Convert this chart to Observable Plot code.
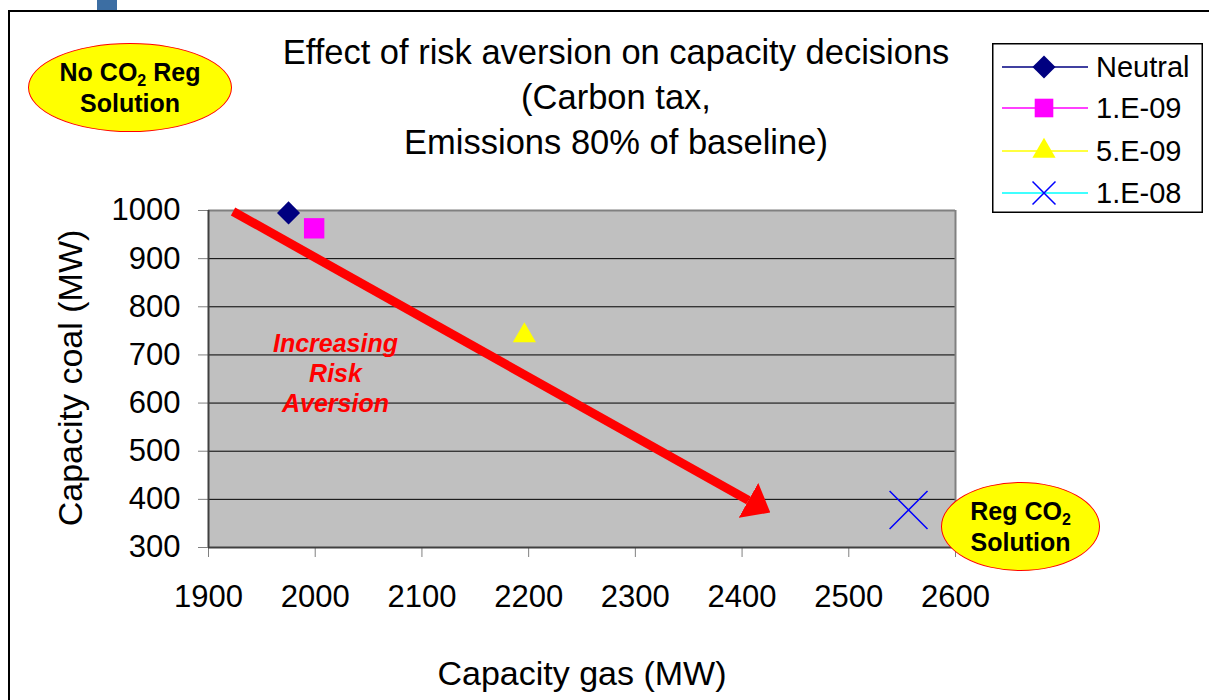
<!DOCTYPE html>
<html><head><meta charset="utf-8">
<script src="https://cdn.jsdelivr.net/npm/d3@7"></script>
<script src="https://cdn.jsdelivr.net/npm/@observablehq/plot@0.6"></script>
<style>
body{margin:0;background:#fff;font-family:"Liberation Sans",Arial,sans-serif;}
#wrap{position:relative;width:1209px;height:700px;overflow:hidden;background:#fff;}
#wrap svg.main{position:absolute;left:0;top:0;}
.frame{position:absolute;left:8px;top:10px;width:1300px;height:800px;border-left:2px solid #000;border-top:2px solid #000;box-sizing:border-box;}
.tab{position:absolute;left:97px;top:0;width:20px;height:10px;background:#3c6ea3;}
.title{position:absolute;left:266px;top:30px;width:700px;text-align:center;font-size:34.5px;line-height:45px;color:#000;white-space:nowrap;}
.xtitle{position:absolute;left:332px;top:656px;width:500px;text-align:center;font-size:34px;line-height:34px;white-space:nowrap;}
.ytitle{position:absolute;left:-130px;top:361px;width:400px;height:34px;text-align:center;font-size:34px;line-height:34px;white-space:nowrap;transform:rotate(-90deg);transform-origin:200px 17px;}
.ell{position:absolute;background:#ffff00;border:1.5px solid #ff0000;border-radius:50%;box-sizing:border-box;display:flex;align-items:center;justify-content:center;text-align:center;font-weight:bold;font-size:25px;line-height:31px;color:#000;}
.ell sub{font-size:16px;vertical-align:-5px;line-height:0;}
.legend{position:absolute;left:992px;top:43px;}
</style></head><body><div id="wrap"></div><script>
// ---- data ----
const series = ["Neutral", "1.E-09", "5.E-09", "1.E-08"];
const gasMW = [1975, 1999, 2196, 2556];
const coalMW = [995, 963, 740, 378];
const xTicks = [1900, 2000, 2100, 2200, 2300, 2400, 2500, 2600];
const yTicks = [300, 400, 500, 600, 700, 800, 900, 1000];
const arrowGas = [1923, 2406];
const arrowCoal = [998, 398];
const noteText = ["Increasing\nRisk\nAversion"];
const noteGas = [2019];
const noteCoal = [663];

// ---- styles ----
const seriesStyle = [
  {symbol: "diamond2", r: 10.4, fill: "#000080", stroke: "none", line: "#000080", lr: 10.4},
  {symbol: "square", r: 11.5, fill: "#ff00ff", stroke: "none", line: "#ff00ff", lr: 10.5},
  {symbol: "triangle", r: 8.6, fill: "#ffff00", stroke: "none", line: "#ffff00", lr: 8.6},
  {symbol: "times", r: 17.3, fill: "none", stroke: "#0000ff", line: "#00ffff", lr: 10.5}
];

const points = series.map((s, i) => ({series: s, gas: gasMW[i], coal: coalMW[i]}));
const arrow = [{x1: arrowGas[0], y1: arrowCoal[0], x2: arrowGas[1], y2: arrowCoal[1]}];
const notes = noteText.map((t, i) => ({t, x: noteGas[i], y: noteCoal[i]}));

function headMarker(color, context) {
  const m = d3.create("svg:marker")
    .attr("viewBox", "0 -20 25 40")
    .attr("markerWidth", 25).attr("markerHeight", 40)
    .attr("refX", 0).attr("refY", 0)
    .attr("markerUnits", "userSpaceOnUse")
    .attr("orient", "auto");
  m.append("path").attr("d", "M0,-20L25,0L0,20Z").attr("fill", color).attr("stroke", "none");
  return m.node();
}

const plain = d => String(d);

function build(marker) {
  return Plot.plot({
    width: 1209, height: 700,
    marginLeft: 208, marginRight: 254, marginTop: 210, marginBottom: 153,
    x: {domain: [xTicks[0], xTicks[xTicks.length - 1]]},
    y: {domain: [yTicks[0], yTicks[yTicks.length - 1]]},
    style: {fontFamily: "Liberation Sans, Arial, sans-serif", background: "transparent", overflow: "visible"},
    marks: [
      Plot.frame({fill: "#c0c0c0", stroke: "none"}),
      Plot.gridY(yTicks.slice(1, -1), {stroke: "#000", strokeOpacity: 1, strokeWidth: 1}),
      Plot.ruleY(yTicks.slice(-1), {stroke: "#808080", strokeWidth: 2}),
      Plot.ruleX(xTicks.slice(-1), {stroke: "#808080", strokeWidth: 2}),
      Plot.axisX(xTicks, {tickSize: 10, tickPadding: 27, fontSize: 31, stroke: "#808080", fill: "#000", label: null, tickFormat: plain}),
      Plot.axisY(yTicks, {tickSize: 10, tickPadding: 18, fontSize: 31, stroke: "#808080", fill: "#000", label: null, tickFormat: plain}),
      Plot.ruleX(xTicks.slice(0, 1), {stroke: "#404040", strokeWidth: 2}),
      Plot.ruleY(yTicks.slice(0, 1), {stroke: "#404040", strokeWidth: 2}),
      Plot.link(arrow, {x1: "x1", y1: "y1", x2: "x2", y2: "y2", stroke: "#ff0000", strokeWidth: 9, markerEnd: marker}),
      Plot.text(notes, {x: "x", y: "y", text: "t", fill: "#ff0000", fontSize: 25, fontWeight: "bold", fontStyle: "italic", lineHeight: 1.2, textAnchor: "middle"}),
      ...points.map((p, i) => Plot.dot([p], {
        x: "gas", y: "coal", symbol: seriesStyle[i].symbol, r: seriesStyle[i].r,
        fill: seriesStyle[i].fill, stroke: seriesStyle[i].stroke, strokeWidth: 1.5
      }))
    ]
  });
}

let chart;
try { chart = build(headMarker); } catch (e) { chart = build("arrow"); }
chart.classList.add("main");

const wrap = document.getElementById("wrap");
const frame = document.createElement("div"); frame.className = "frame"; wrap.appendChild(frame);
const tab = document.createElement("div"); tab.className = "tab"; wrap.appendChild(tab);
wrap.appendChild(chart);

function addDiv(cls, html, style) {
  const d = document.createElement("div");
  d.className = cls; d.innerHTML = html;
  if (style) Object.assign(d.style, style);
  wrap.appendChild(d);
  return d;
}
addDiv("title", "Effect of risk aversion on capacity decisions<br>(Carbon tax,<br>Emissions 80% of baseline)");
addDiv("xtitle", "Capacity gas (MW)");
addDiv("ytitle", "Capacity coal (MW)");
addDiv("ell", "<div>No CO<sub>2</sub> Reg<br>Solution</div>", {left: "28px", top: "43px", width: "204px", height: "89px"});
addDiv("ell", "<div>Reg CO<sub>2</sub><br>Solution</div>", {left: "941px", top: "482px", width: "159px", height: "89px"});

// legend
const lg = d3.create("svg").attr("class", "legend").attr("width", 212).attr("height", 171);
lg.append("rect").attr("x", 0.75).attr("y", 0.75).attr("width", 209.5).attr("height", 168.5)
  .attr("fill", "#fff").attr("stroke", "#000").attr("stroke-width", 1.5);
const rowY = [24, 65, 108, 150];
const symMap = {diamond2: d3.symbolDiamond2, square: d3.symbolSquare, triangle: d3.symbolTriangle, times: d3.symbolTimes};
series.forEach((s, i) => {
  const st = seriesStyle[i];
  const g = lg.append("g").attr("transform", `translate(0,${rowY[i]})`);
  g.append("line").attr("x1", 10).attr("x2", 96).attr("y1", 0).attr("y2", 0).attr("stroke", st.line).attr("stroke-width", 1.5);
  g.append("path").attr("transform", "translate(52,0)")
    .attr("d", d3.symbol(symMap[st.symbol], st.lr * st.lr * Math.PI)())
    .attr("fill", st.fill).attr("stroke", st.stroke).attr("stroke-width", 1.5);
  g.append("text").attr("x", 104).attr("y", 0).attr("dy", "0.36em")
    .attr("font-size", 29).attr("font-family", "Liberation Sans, Arial, sans-serif").attr("fill", "#000").text(s);
});
wrap.appendChild(lg.node());
</script></body></html>
